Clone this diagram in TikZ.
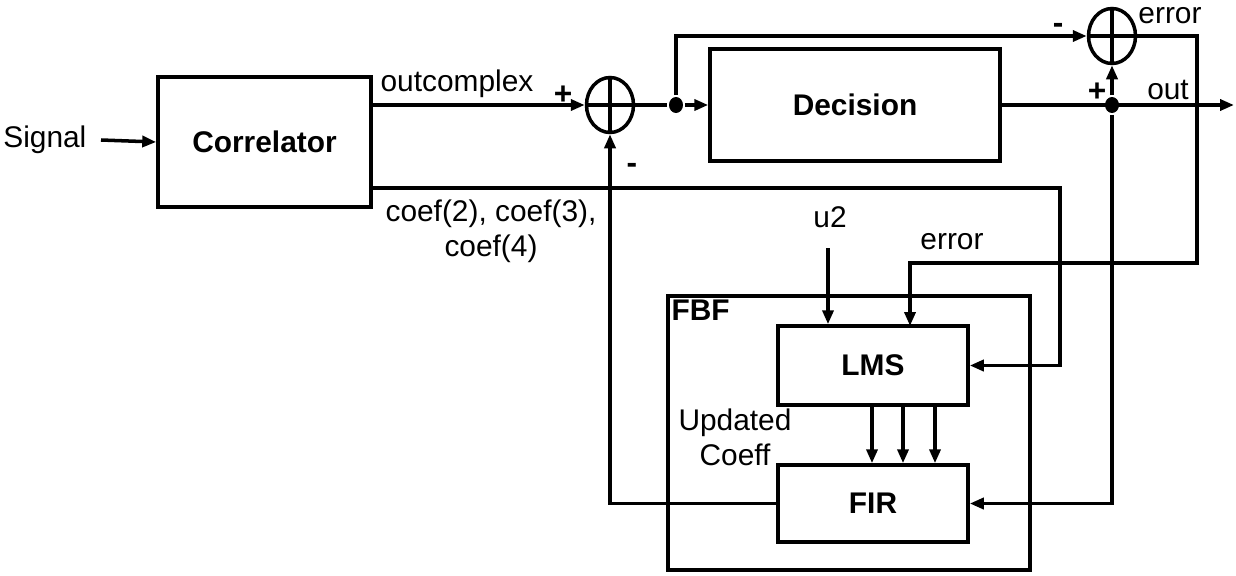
\documentclass[tikz,border=0pt]{standalone}
\usepackage{fontspec}
\setmainfont{Liberation Sans}
\usetikzlibrary{arrows.meta,shapes.geometric}

\begin{document}
\begin{tikzpicture}[x=0.02cm,y=-0.02cm,>={Triangle[length=0.28cm,width=0.22cm]},
    line width=2pt,font=\fontsize{17}{20}\selectfont,
    block/.style={draw,rectangle,inner sep=0pt,font=\fontsize{17}{20}\selectfont\bfseries},
    sumnode/.style={draw,ellipse,inner sep=0pt,minimum width=0.94cm,minimum height=1.1cm,
      path picture={\draw[line width=2pt]
        (path picture bounding box.north) -- (path picture bounding box.south)
        (path picture bounding box.west) -- (path picture bounding box.east);}},
    junction/.style={fill,ellipse,inner sep=0pt,minimum width=0.28cm,minimum height=0.32cm},
    sign/.style={font=\fontsize{18}{20}\selectfont\bfseries}]
    \useasboundingbox (0,0) rectangle (1236,575);

    % main path
    \node[anchor=east] (sig) at (94,140) {Signal};
    \node[block,minimum width=4.26cm,minimum height=2.6cm] (corr) at (264.5,142) {Correlator};
    \node[sumnode] (sum1) at (610,105) {};
    \node[junction] (dot1) at (676,105) {};
    \node[block,minimum width=5.8cm,minimum height=2.24cm] (dec) at (855,105) {Decision};
    \node[junction] (dot2) at (1112,105) {};
    \node[sumnode] (sum2) at (1112,36) {};
    \coordinate (outend) at (1234,105);

    % adaptive feedback filter
    \node[draw,rectangle,minimum width=7.24cm,minimum height=5.48cm] (fbf) at (849,433) {};
    \node[anchor=north west,inner sep=2pt,font=\fontsize{17}{20}\selectfont\bfseries]
      (fbflbl) at (fbf.north west) {FBF};
    \node[block,minimum width=3.8cm,minimum height=1.58cm] (lms) at (873,365.5) {LMS};
    \node[block,minimum width=3.8cm,minimum height=1.54cm] (fir) at (873,503.5) {FIR};

    \coordinate (coefR) at (1060,188);
    \coordinate (errR) at (1197,263);
    \coordinate (errin) at (910,326);
    \coordinate (u2in) at (828,248);

    \draw[->] (101,140) -- (corr.west);
    \draw[->] (corr.east |- sum1.west) -- (sum1.west);
    \draw (sum1.east) -- (dot1);
    \draw[->] (dot1) -- (dec.west);
    \draw[->] (dot1) |- (sum2.west);
    \draw[->] (dec.east) -- (outend);
    \draw[->] (dot2) -- (sum2.south);
    \draw[->] (dot2) |- (fir.east);
    \draw[->] (sum2.east) -| (errR) -| (errin);
    \draw[->] (corr.east |- coefR) -- (coefR) |- (lms.east);
    \draw[->] (u2in) -- (u2in |- lms.north);
    \foreach \x in {872,903,935} \draw[->] (lms.south -| \x,0) -- (fir.north -| \x,0);
    \draw[->] (fir.west) -| (sum1.south);

    % labels
    \node (outcx) at (457,84) {outcomplex};
    \node[align=center,inner sep=0pt] (coeflbl) at (491,231) {coef(2), coef(3),\\coef(4)};
    \node (u2) at (830,217) {u2};
    \node (errlbl) at (952,242) {error};
    \node (errtop) at (1170,16) {error};
    \node (outlbl) at (1168,90) {out};
    \node[align=center,inner sep=0pt] (updlbl) at (735,437) {Updated\\Coeff};
    \node[sign] (p1) at (563,95) {+};
    \node[sign] (m1) at (632,168) {-};
    \node[sign] (m2) at (1058,28) {-};
    \node[sign] (p2) at (1097,92) {+};
  \end{tikzpicture}
\end{document}
